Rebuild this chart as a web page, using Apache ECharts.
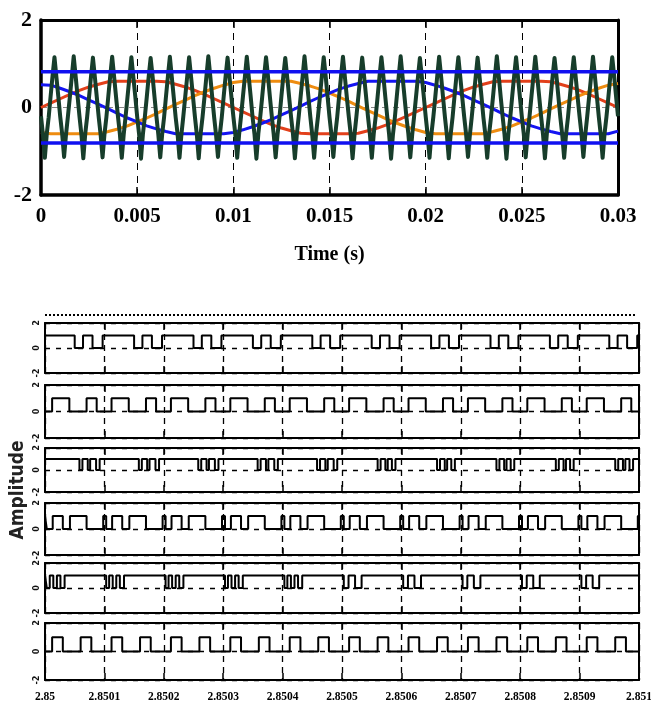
<!DOCTYPE html>
<html><head><meta charset="utf-8">
<script src="https://cdn.jsdelivr.net/npm/echarts@6/dist/echarts.min.js"></script>
<style>html,body{margin:0;padding:0;background:#fff}#c{width:651px;height:706px}</style>
</head><body><div id="c"></div>
<script>
// ===== Top chart data (time in s) =====
const topXLabels = ['0','0.005','0.01','0.015','0.02','0.025','0.03'];
const sineStep = 0.0005; // sample spacing of the reference curves
const redV = [0,.10,.20,.30,.39,.47,.53,.59,.60,.60,.60,.60,.60,.59,.53,.47,.39,.30,.20,.10,0,
  -.10,-.20,-.30,-.39,-.47,-.53,-.59,-.60,-.60,-.60,-.60,-.60,-.59,-.53,-.47,-.39,-.30,-.20,-.10,0,
  .10,.20,.30,.39,.47,.53,.59,.60,.60,.60,.60,.60,.59,.53,.47,.39,.30,.20,.10,0];
const orangeV = [-.57,-.60,-.60,-.60,-.60,-.60,-.60,-.55,-.49,-.42,-.33,-.24,-.14,-.03,.07,.17,.27,.36,.44,.51,.57,
  .60,.60,.60,.60,.60,.60,.55,.49,.42,.33,.24,.14,.03,-.07,-.17,-.27,-.36,-.44,-.51,-.57,
  -.60,-.60,-.60,-.60,-.60,-.60,-.55,-.49,-.42,-.33,-.24,-.14,-.03,.07,.17,.27,.36,.44,.51,.55];
const blueV = [.52,.51,.44,.36,.27,.17,.07,-.03,-.14,-.24,-.33,-.42,-.49,-.55,-.60,-.60,-.60,-.60,-.60,-.60,-.57,
  -.51,-.44,-.36,-.27,-.17,-.07,.03,.14,.24,.33,.42,.49,.55,.60,.60,.60,.60,.60,.60,.57,
  .51,.44,.36,.27,.17,.07,-.03,-.14,-.24,-.33,-.42,-.49,-.55,-.60,-.60,-.60,-.60,-.60,-.60,-.54];
const limitUpper = 0.82, limitLower = -0.81;
const carrierStep = 0.0001;
const carrierV = [
 -.20,-.62,-1.15,-.60,-.22,.26,.72,1.15,.70,.25,
 -.21,-.60,-1.13,-.62,-.20,.24,.70,1.17,.72,.26,
 -.20,-.61,-1.16,-.60,-.21,.25,.71,1.14,.70,.24,
 -.22,-.62,-1.14,-.61,-.22,.26,.72,1.16,.71,.25,
 -.20,-.60,-1.15,-.62,-.20,.25,.70,1.15,.70,.26,
 -.21,-.61,-1.17,-.60,-.21,.24,.71,1.13,.72,.25,
 -.20,-.62,-1.14,-.61,-.22,.26,.72,1.16,.70,.24,
 -.22,-.60,-1.15,-.62,-.20,.25,.70,1.15,.71,.26,
 -.20,-.61,-1.16,-.60,-.21,.24,.71,1.17,.72,.25,
 -.21,-.62,-1.13,-.61,-.22,.26,.72,1.14,.70,.24,
 -.20,-.60,-1.15,-.62,-.20,.25,.70,1.16,.71,.26,
 -.22,-.61,-1.17,-.60,-.21,.24,.71,1.15,.72,.25,
 -.20,-.62,-1.14,-.61,-.22,.26,.72,1.13,.70,.24,
 -.21,-.60,-1.16,-.62,-.20,.25,.70,1.17,.71,.26,
 -.20,-.61,-1.15,-.60,-.21,.24,.71,1.15,.72,.25,
 -.22,-.62,-1.13,-.61,-.22,.26,.72,1.16,.70,.24,
 -.20,-.60,-1.16,-.62,-.20,.25,.70,1.14,.71,.26,
 -.21,-.61,-1.15,-.60,-.21,.24,.71,1.15,.72,.25,
 -.20,-.62,-1.17,-.61,-.22,.26,.72,1.17,.70,.24,
 -.22,-.60,-1.14,-.62,-.20,.25,.70,1.13,.71,.26,
 -.20,-.61,-1.15,-.60,-.21,.24,.71,1.16,.72,.25,
 -.21,-.62,-1.16,-.61,-.22,.26,.72,1.15,.70,.24,
 -.20,-.60,-1.13,-.62,-.20,.25,.70,1.14,.71,.26,
 -.22,-.61,-1.15,-.60,-.21,.24,.71,1.17,.72,.25,
 -.20,-.62,-1.17,-.61,-.22,.26,.72,1.15,.70,.24,
 -.21,-.60,-1.14,-.62,-.20,.25,.70,1.16,.71,.26,
 -.20,-.61,-1.16,-.60,-.21,.24,.71,1.13,.72,.25,
 -.22,-.62,-1.15,-.61,-.22,.26,.72,1.15,.70,.24,
 -.20,-.60,-1.13,-.62,-.20,.25,.70,1.16,.71,.26,
 -.21,-.61,-1.15,-.60,-.21,.24,.71,1.15,.72,.25,
 -.20];

// ===== Bottom gate-pulse panels: [microseconds after 2.85 s, level] =====
const pulseT0 = 2.85;
const botXLabels = ['2.85','2.8501','2.8502','2.8503','2.8504','2.8505','2.8506','2.8507','2.8508','2.8509','2.851'];
const p1 = [[0,1],
 [50,0],[64,1],[80,0],[97,1], [150,0],[164,1],[180,0],[197,1], [250,0],[264,1],[280,0],[297,1],
 [350,0],[364,1],[380,0],[397,1], [450,0],[464,1],[480,0],[497,1], [550,0],[564,1],[580,0],[597,1],
 [650,0],[664,1],[680,0],[697,1], [750,0],[764,1],[780,0],[797,1], [850,0],[864,1],[880,0],[897,1],
 [950,0],[964,1],[980,0],[997,1], [1000,1]];
const p2 = [[0,0],
 [12,1],[41,0],[70,1],[87,0], [112,1],[141,0],[170,1],[187,0], [212,1],[241,0],[270,1],[287,0],
 [312,1],[341,0],[370,1],[387,0], [412,1],[441,0],[470,1],[487,0], [512,1],[541,0],[570,1],[587,0],
 [612,1],[641,0],[670,1],[687,0], [712,1],[741,0],[770,1],[787,0], [812,1],[841,0],[870,1],[887,0],
 [912,1],[941,0],[970,1],[987,0], [1000,0]];
const p3 = [[0,1],
 [58,0],[63,1],[72,0],[76,1],[86,0],[92,1], [158,0],[163,1],[172,0],[176,1],[186,0],[192,1],
 [258,0],[263,1],[272,0],[276,1],[286,0],[292,1], [358,0],[363,1],[372,0],[376,1],[386,0],[392,1],
 [458,0],[463,1],[472,0],[476,1],[486,0],[492,1], [560,0],[565,1],[573,0],[577,1],[584,0],[590,1],
 [660,0],[665,1],[673,0],[677,1],[684,0],[690,1], [760,0],[765,1],[773,0],[777,1],[784,0],[790,1],
 [860,0],[865,1],[873,0],[877,1],[884,0],[890,1], [960,0],[965,1],[973,0],[977,1],[984,0],[990,1],
 [1000,1]];
const p4 = [[0,1],
 [3,0],[13,1],[30,0],[42,1],[70,0],[98,1], [103,0],[113,1],[130,0],[142,1],[170,0],[198,1],
 [203,0],[213,1],[230,0],[242,1],[270,0],[298,1], [303,0],[313,1],[330,0],[342,1],[370,0],[398,1],
 [403,0],[413,1],[430,0],[442,1],[470,0],[498,1], [503,0],[513,1],[530,0],[542,1],[570,0],[598,1],
 [603,0],[613,1],[630,0],[642,1],[670,0],[698,1], [703,0],[713,1],[730,0],[742,1],[770,0],[798,1],
 [803,0],[813,1],[830,0],[842,1],[870,0],[898,1], [903,0],[913,1],[930,0],[942,1],[970,0],[998,1],
 [1000,1]];
const p5 = [[0,1],
 [3,0],[8,1],[14,0],[20,1],[26,0],[33,1], [103,0],[108,1],[114,0],[120,1],[126,0],[133,1],
 [203,0],[208,1],[214,0],[220,1],[226,0],[233,1], [303,0],[308,1],[314,0],[320,1],[326,0],[333,1],
 [403,0],[408,1],[414,0],[420,1],[426,0],[433,1], [503,0],[511,1],[522,0],[533,1],
 [603,0],[611,1],[622,0],[633,1], [703,0],[711,1],[722,0],[733,1], [803,0],[811,1],[822,0],[833,1],
 [903,0],[911,1],[922,0],[933,1], [1000,1]];
const p6 = [[0,0],
 [12,1],[30,0],[60,1],[78,0], [112,1],[130,0],[160,1],[178,0], [212,1],[230,0],[260,1],[278,0],
 [312,1],[330,0],[360,1],[378,0], [412,1],[430,0],[460,1],[478,0], [512,1],[530,0],[560,1],[578,0],
 [612,1],[630,0],[660,1],[678,0], [712,1],[730,0],[760,1],[778,0], [812,1],[830,0],[860,1],[878,0],
 [912,1],[930,0],[960,1],[978,0], [1000,0]];
const panels = [p1, p2, p3, p4, p5, p6];

// ===== layout =====
const panelBoxes = [[323,50],[385,53],[448,44],[503,52],[563,50],[623,57]];
const serif = '"Liberation Serif","Times New Roman",serif';
const narrow = '"Liberation Sans Narrow","DejaVu Sans Condensed","Liberation Sans",sans-serif';

const grid = [{left:41, top:20, width:577, height:175, outerBoundsMode:'none', containLabel:false}];
panelBoxes.forEach(b => grid.push({left:45, top:b[0], width:594, height:b[1], outerBoundsMode:'none', containLabel:false}));

const xAxis = [], yAxis = [], series = [];
// top chart axes
xAxis.push({gridIndex:0, type:'value', min:0, max:0.03, interval:0.005, position:'bottom',
  axisLine:{onZero:false, lineStyle:{color:'#000', width:3.5}},
  axisTick:{inside:true, length:8, lineStyle:{color:'#000', width:1.5}},
  axisLabel:{color:'#000', fontFamily:serif, fontWeight:'bold', fontSize:21, margin:11,
    formatter:(v,i)=>topXLabels[i]},
  splitLine:{show:true, lineStyle:{color:'#000', width:1, type:[7,6]}},
  name:'Time (s)', nameLocation:'middle', nameGap:50,
  nameTextStyle:{color:'#000', fontFamily:serif, fontWeight:'bold', fontSize:20}});
xAxis.push({gridIndex:0, type:'value', min:0, max:0.03, interval:0.005, position:'top',
  axisLine:{onZero:false, lineStyle:{color:'#000', width:3}},
  axisTick:{inside:true, length:8, lineStyle:{color:'#000', width:1.5}},
  axisLabel:{show:false}, splitLine:{show:false}});
yAxis.push({gridIndex:0, type:'value', min:-2, max:2, interval:2, position:'left',
  axisLine:{show:true, onZero:false, lineStyle:{color:'#000', width:3.5}},
  axisTick:{show:false},
  axisLabel:{color:'#000', fontFamily:serif, fontWeight:'bold', fontSize:22, margin:9},
  splitLine:{show:true, lineStyle:{color:'#888', width:1, type:[6,5]}}});
yAxis.push({gridIndex:0, type:'value', min:-2, max:2, interval:2, position:'right',
  axisLine:{show:true, onZero:false, lineStyle:{color:'#000', width:3}},
  axisTick:{show:false}, axisLabel:{show:false}, splitLine:{show:false}});

// bottom panels axes
for (let p = 0; p < 6; p++) {
  const g = p + 1, last = p === 5;
  xAxis.push({gridIndex:g, type:'value', min:2.85, max:2.851, interval:0.0001, position:'bottom',
    axisLine:{onZero:false, lineStyle:{color:'#000', width:2}},
    axisTick:{inside:true, length:7, lineStyle:{color:'#000', width:1.5}},
    axisLabel:{show:last, color:'#000', fontFamily:serif, fontWeight:'bold', fontSize:11.5, margin:11,
      formatter:(v,i)=>botXLabels[i]},
    splitLine:{show:true, lineStyle:{color:'#000', width:1.3, type:[6,5]}}});
  xAxis.push({gridIndex:g, type:'value', min:2.85, max:2.851, interval:0.0001, position:'top',
    axisLine:{onZero:false, lineStyle:{color:'#000', width:2}},
    axisTick:{inside:true, length:7, lineStyle:{color:'#000', width:1.5}},
    axisLabel:{show:false}, splitLine:{show:false}});
  yAxis.push({gridIndex:g, type:'value', min:-2, max:2, interval:2, position:'left',
    axisLine:{show:true, onZero:false, lineStyle:{color:'#000', width:2}},
    axisTick:{show:false},
    axisLabel:{color:'#111', fontFamily:narrow, fontWeight:'bold', fontSize:9, margin:4, rotate:90},
    splitLine:{show:true, lineStyle:{color:'#000', width:1.3, type:[5,6]}}});
  yAxis.push({gridIndex:g, type:'value', min:-2, max:2, interval:2, position:'right',
    axisLine:{show:true, onZero:false, lineStyle:{color:'#000', width:2}},
    axisTick:{show:false}, axisLabel:{show:false}, splitLine:{show:false}});
}

// top series
const sinePts = arr => arr.map((v,i)=>[i*sineStep, v]);
series.push({type:'line', xAxisIndex:0, yAxisIndex:0, data:sinePts(redV), showSymbol:false,
  lineStyle:{color:'#e2401b', width:3}, z:2});
series.push({type:'line', xAxisIndex:0, yAxisIndex:0, data:sinePts(orangeV), showSymbol:false,
  lineStyle:{color:'#ee8c10', width:3}, z:2});
series.push({type:'line', xAxisIndex:0, yAxisIndex:0, data:sinePts(blueV), showSymbol:false,
  lineStyle:{color:'#1414f2', width:3}, z:2});
series.push({type:'line', xAxisIndex:0, yAxisIndex:0, data:carrierV.map((v,i)=>[i*carrierStep, v]),
  showSymbol:false, lineStyle:{color:'#173d2b', width:4, join:'round'}, z:3});
series.push({type:'line', xAxisIndex:0, yAxisIndex:0, data:[[0,limitUpper],[0.03,limitUpper]],
  showSymbol:false, lineStyle:{color:'#1010f0', width:3.5}, z:4});
series.push({type:'line', xAxisIndex:0, yAxisIndex:0, data:[[0,limitLower],[0.03,limitLower]],
  showSymbol:false, lineStyle:{color:'#1010f0', width:3.5}, z:4});

// bottom series
panels.forEach((pl, p) => {
  series.push({type:'line', step:'end', xAxisIndex:2 + p*2, yAxisIndex:2 + p*2,
    data: pl.map(d=>[pulseT0 + d[0]*1e-6, d[1]]),
    showSymbol:false, lineStyle:{color:'#000', width:2}, z:3});
});

const chart = echarts.init(document.getElementById('c'), null, {renderer:'canvas'});
chart.setOption({
  animation:false, backgroundColor:'#fff',
  grid, xAxis, yAxis, series,
  graphic:[
    {type:'line', shape:{x1:45, y1:315, x2:637, y2:315}, style:{stroke:'#000', lineWidth:2, lineDash:[2,2]}},
    {type:'text', x:18, y:490, rotation:Math.PI/2,
      style:{text:'Amplitude', fill:'#222', font:'bold 19px ' + narrow, textAlign:'center', textVerticalAlign:'middle'}}
  ]
});
</script></body></html>
